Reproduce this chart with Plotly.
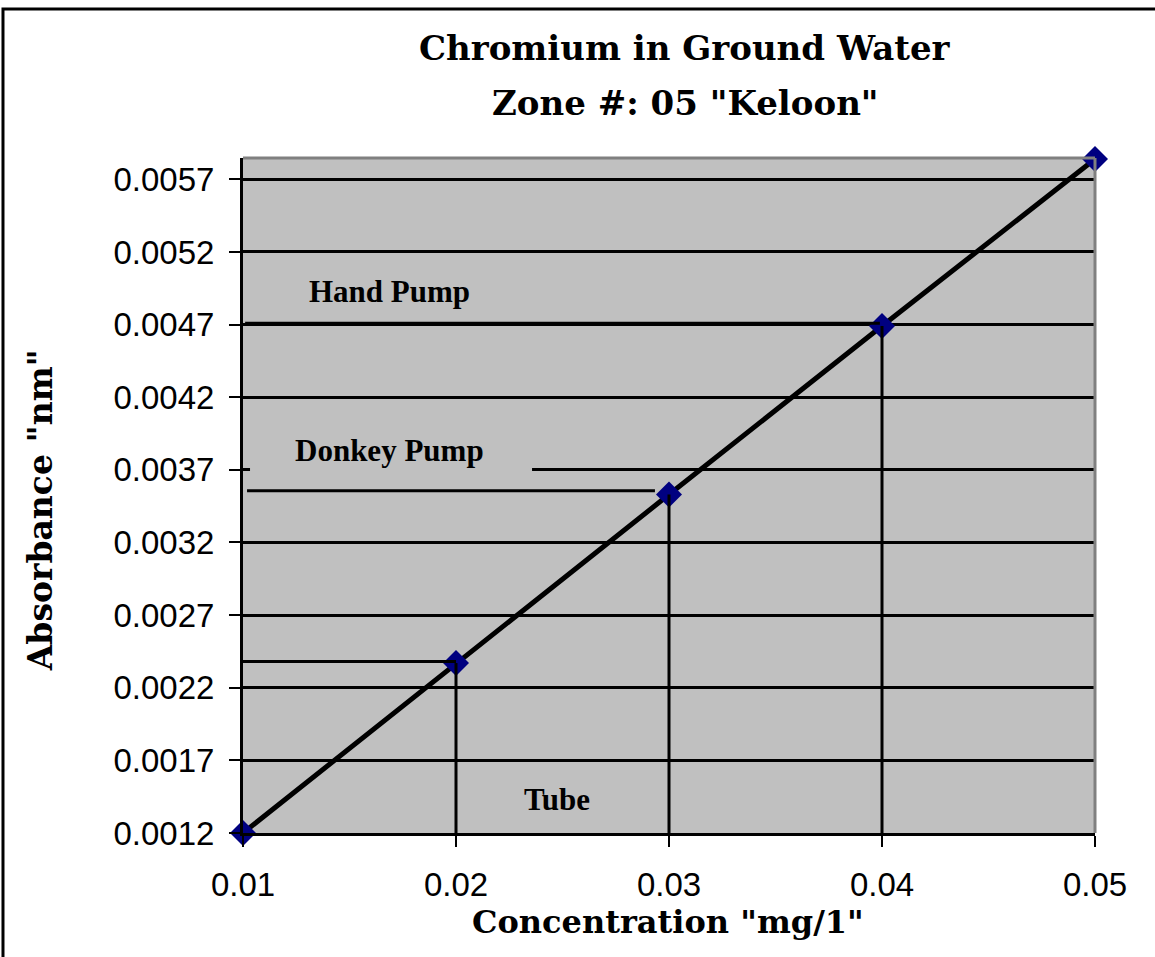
import plotly.graph_objects as go

# Data
concentration = [0.01, 0.02, 0.03, 0.04, 0.05]
absorbance = [0.0012, 0.00237, 0.00353, 0.00469, 0.00584]

x_ticks = [0.01, 0.02, 0.03, 0.04, 0.05]
x_tick_labels = ["0.01", "0.02", "0.03", "0.04", "0.05"]
y_ticks = [0.0012, 0.0017, 0.0022, 0.0027, 0.0032, 0.0037, 0.0042, 0.0047, 0.0052, 0.0057]
y_tick_labels = ["0.0012", "0.0017", "0.0022", "0.0027", "0.0032", "0.0037", "0.0042", "0.0047", "0.0052", "0.0057"]

# read-off guide lines (horizontal) for each water source
source_names = ["Tube", "Donkey Pump", "Hand Pump"]
guide_level = [0.00238, 0.003556, 0.00471]
guide_x_start = [0.00977, 0.01019, 0.0101]
guide_x_end = [0.02, 0.02934, 0.0399]
source_drop_x = [0.02, 0.03, 0.04]
source_drop_top = [0.00237, 0.00353, 0.00469]
label_x = [0.02474, 0.0169, 0.01688]
label_y = [0.001434, 0.003836, 0.00493]

Y_MIN, Y_MAX = 0.0012, 0.005847
X_MIN, X_MAX = 0.01, 0.05

fig = go.Figure()

shapes = []
# cover box behind "Donkey Pump" label (hides part of gridline)
shapes.append(dict(type="rect", xref="x", yref="y", x0=0.01033, x1=0.02357, y0=0.00363, y1=0.00394,
                   fillcolor="#C0C0C0", line=dict(width=0), layer="above"))
for i in range(3):
    shapes.append(dict(type="line", xref="x", yref="y", x0=guide_x_start[i], x1=guide_x_end[i],
                       y0=guide_level[i], y1=guide_level[i], line=dict(color="black", width=3), layer="above"))
    shapes.append(dict(type="line", xref="x", yref="y", x0=source_drop_x[i], x1=source_drop_x[i],
                       y0=Y_MIN, y1=source_drop_top[i], line=dict(color="black", width=3), layer="above"))
# gray top and right plot borders
shapes.append(dict(type="line", xref="x domain", yref="y domain", x0=0, x1=1, y0=1, y1=1,
                   line=dict(color="#808080", width=3), layer="above"))
shapes.append(dict(type="line", xref="x domain", yref="y domain", x0=1, x1=1, y0=0, y1=1,
                   line=dict(color="#808080", width=3), layer="above"))
# outer chart border
shapes.append(dict(type="rect", xref="paper", yref="paper", x0=-0.2817, x1=1.1, y0=-0.25, y1=1.2207,
                   line=dict(color="black", width=3), fillcolor="rgba(0,0,0,0)", layer="above"))

fig.add_trace(go.Scatter(
    x=concentration, y=absorbance, mode="lines+markers",
    line=dict(color="black", width=5),
    marker=dict(symbol="diamond", size=20, color="#000080"),
    cliponaxis=False, showlegend=False,
))

annotations = []
for i in range(3):
    annotations.append(dict(x=label_x[i], y=label_y[i], xref="x", yref="y", text="<b>%s</b>" % source_names[i],
                            xanchor="center", yanchor="middle",
                            showarrow=False, font=dict(family="Liberation Serif", size=31, color="black")))
annotations += [
    dict(x=0.519, y=1.163, xref="paper", yref="paper", text="<b>Chromium in Ground Water</b>", showarrow=False,
         xanchor="center", yanchor="middle",
         font=dict(family="DejaVu Serif", size=34, color="black")),
    dict(x=0.519, y=1.0815, xref="paper", yref="paper", text="<b>Zone #: 05 \"Keloon\"</b>", showarrow=False,
         xanchor="center", yanchor="middle",
         font=dict(family="DejaVu Serif", size=34, color="black")),
    dict(x=0.4988, y=-0.132, xref="paper", yref="paper", text="<b>Concentration \"mg/1\"</b>", showarrow=False,
         xanchor="center", yanchor="middle",
         font=dict(family="DejaVu Serif", size=32, color="black")),
    dict(x=-0.238, y=0.4785, xref="paper", yref="paper", text="<b>Absorbance \"nm\"</b>", showarrow=False,
         xanchor="center", yanchor="middle",
         textangle=-90, font=dict(family="DejaVu Serif", size=33, color="black")),
]

fig.update_layout(
    width=1155, height=957, autosize=False,
    margin=dict(l=243, r=60, t=158, b=124, pad=0),
    paper_bgcolor="white", plot_bgcolor="#C0C0C0",
    shapes=shapes, annotations=annotations,
    font=dict(family="Liberation Sans", color="black"),
)
fig.update_xaxes(
    range=[X_MIN, X_MAX], tickmode="array", tickvals=x_ticks, ticktext=x_tick_labels,
    showgrid=False, zeroline=False, showline=True, linecolor="black", linewidth=3,
    ticks="outside", ticklen=11, tickwidth=2, tickcolor="black",
    tickfont=dict(family="Liberation Sans", size=33, color="black"), ticklabelstandoff=9,
)
fig.update_yaxes(
    range=[Y_MIN, Y_MAX], tickmode="array", tickvals=y_ticks, ticktext=y_tick_labels,
    showgrid=True, gridcolor="black", gridwidth=3, zeroline=False,
    showline=True, linecolor="black", linewidth=3,
    ticks="outside", ticklen=11, tickwidth=2, tickcolor="black",
    tickfont=dict(family="Liberation Sans", size=33, color="black"), ticklabelstandoff=8,
)

fig.write_html("out.html", config={"displayModeBar": False},
               post_script="document.body.style.margin='0';document.body.style.overflow='hidden';")
